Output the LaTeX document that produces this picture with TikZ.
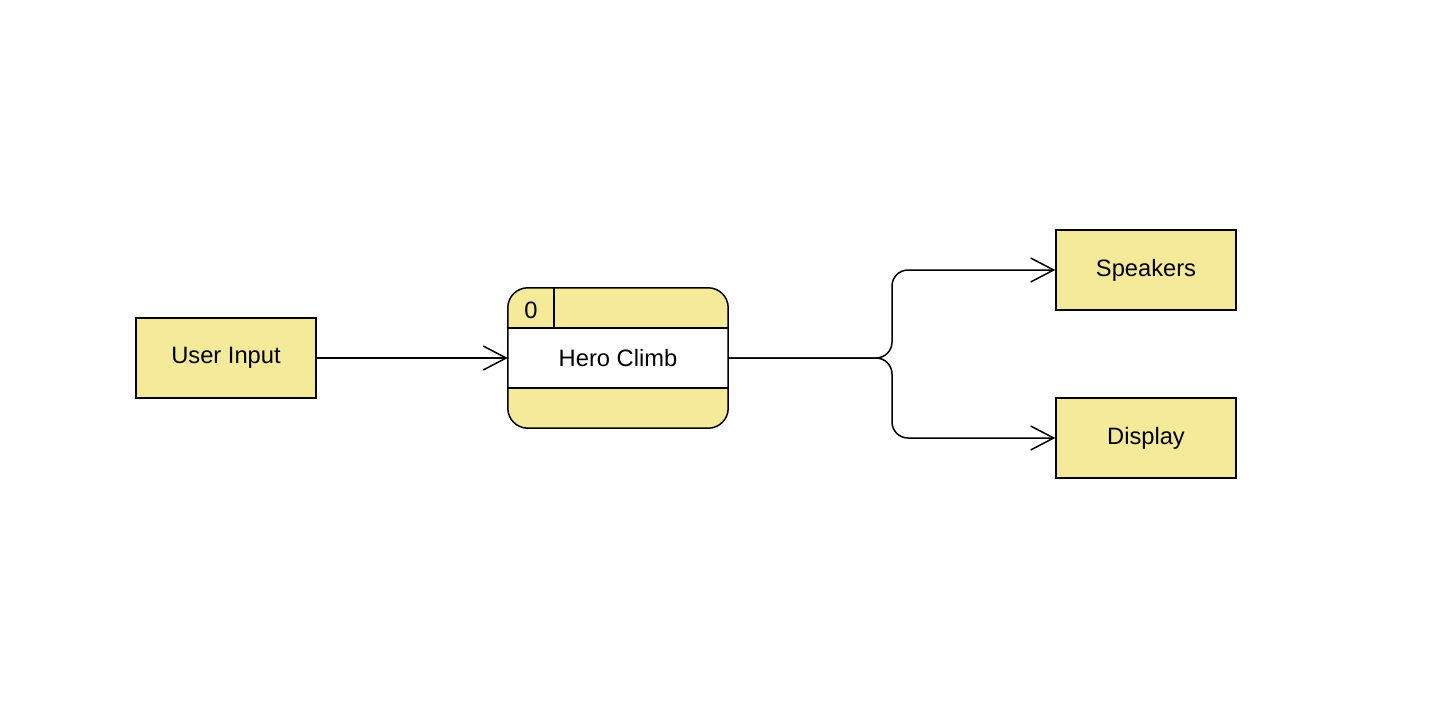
\documentclass[tikz,border=0pt]{standalone}
\usepackage{fontspec}
\setmainfont{Liberation Sans}
\usetikzlibrary{arrows.meta}
\definecolor{boxyellow}{HTML}{F5EA9A}
\begin{document}
\begin{tikzpicture}[x=1pt,y=-1pt,
  every node/.style={font=\fontsize{23.7}{28}\selectfont, text=black},
  entity/.style={draw=black, line width=1.5pt, fill=boxyellow, minimum width=180pt, minimum height=80pt, inner sep=0pt},
  proc/.style={fill=boxyellow, rounded corners=20pt, minimum width=220pt, minimum height=140pt, inner sep=0pt},
  flow/.style={draw=black, line width=1.5pt, -{Straight Barb[length=23pt,width=24pt,line width=1.5pt]}},
  lbl/.style={inner sep=0pt}
]
\useasboundingbox (0,0) rectangle (1430,709);
\fill[white] (0,0) rectangle (1430,709);

\node[entity] (user) at (226,358) {};
\node[lbl] (userl) at (226,358) {User Input};

\node[proc] (proc) at (618,358) {};
\fill[white] (508,328) rectangle (728,388);
\draw[line width=1.5pt] (508,328) -- (728,328);
\draw[line width=1.5pt] (508,388) -- (728,388);
\draw[line width=1.5pt] (554,288) -- (554,328);
\draw[line width=1.5pt, rounded corners=20pt] (proc.north west) rectangle (proc.south east);
\node[lbl] (pnum) at (531,310) {0};
\node[lbl] (pname) at (618,358) {Hero Climb};

\node[entity] (spk) at (1146,270) {};
\node[lbl] (spkl) at (1146,270) {Speakers};
\node[entity] (disp) at (1146,438) {};
\node[lbl] (displ) at (1146,438) {Display};

\draw[flow] (user.east) -- (proc.west);
\draw[flow, rounded corners=16pt] (proc.east) -- (892,358) -- (892,270) -- (spk.west);
\draw[flow, rounded corners=16pt] (proc.east) -- (892,358) -- (892,438) -- (disp.west);
\end{tikzpicture}
\end{document}
